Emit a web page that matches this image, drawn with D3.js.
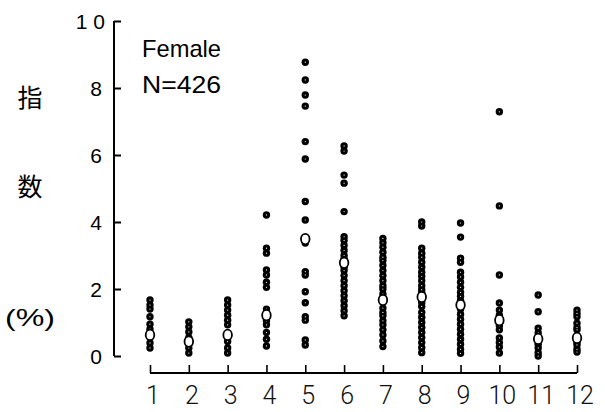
<!DOCTYPE html>
<html>
<head>
<meta charset="utf-8">
<script src="https://cdn.jsdelivr.net/npm/d3@7/dist/d3.min.js"></script>
<style>
  html, body { margin: 0; padding: 0; background: #fff; }
  svg { display: block; }
</style>
</head>
<body>
<svg id="chart" width="605" height="412"></svg>
<script>
// ---- data ----
const months = ["1","2","3","4","5","6","7","8","9","10","11","12"];
const monthLabels = ["1","2","3","4","5","6","7","8","9","10","11","12"];
const yTicks = [0, 2, 4, 6, 8, 10];
const indexValues = [
  [1.67, 1.52, 1.40, 1.17, 0.95, 0.80, 0.39, 0.24],
  [1.02, 0.87, 0.72, 0.55, 0.24, 0.09],
  [1.67, 1.52, 1.37, 1.22, 1.07, 0.93, 0.43, 0.24, 0.09],
  [4.21, 3.22, 3.07, 2.57, 2.42, 2.20, 2.05, 1.40, 1.05, 0.93, 0.70, 0.50, 0.30],
  [8.77, 8.24, 7.79, 7.46, 6.40, 5.88, 4.61, 4.06, 3.37, 2.52, 2.42, 1.92, 1.59, 1.17, 1.07, 0.48, 0.33],
  [6.27, 6.12, 5.40, 5.16, 4.31, 3.56, 3.45, 3.30, 3.15, 3.00, 2.90, 2.65, 2.55, 2.40, 2.25, 2.10, 1.95, 1.80, 1.65, 1.50, 1.35, 1.20],
  [3.51, 3.38, 3.25, 3.10, 2.95, 2.85, 2.70, 2.55, 2.40, 2.25, 2.10, 2.00, 1.85, 1.43, 1.30, 1.20, 1.05, 0.93, 0.78, 0.63, 0.45, 0.28],
  [4.00, 3.88, 3.22, 3.07, 2.95, 2.80, 2.65, 2.50, 2.38, 2.25, 2.10, 1.98, 1.88, 1.60, 1.48, 1.30, 1.15, 1.00, 0.85, 0.70, 0.55, 0.40, 0.25, 0.10],
  [3.97, 3.55, 2.92, 2.80, 2.50, 2.36, 2.20, 2.05, 1.90, 1.78, 1.65, 1.40, 1.25, 1.10, 0.95, 0.80, 0.65, 0.50, 0.35, 0.20, 0.08],
  [7.29, 4.48, 2.42, 1.58, 1.37, 1.22, 0.90, 0.78, 0.54, 0.40, 0.27, 0.09],
  [1.82, 1.32, 0.83, 0.69, 0.35, 0.24, 0.10, 0.00],
  [1.37, 1.27, 1.17, 0.98, 0.85, 0.78, 0.40, 0.33, 0.20, 0.12]
];
const meanValues = [0.63, 0.43, 0.63, 1.22, 3.49, 2.78, 1.67, 1.76, 1.52, 1.07, 0.51, 0.54];
const noteLines = ["Female", "N=426"];
const yLabelParts = ["指", "数", "(%)"];

// ---- scales ----
const svg = d3.select("#chart");
const x = d3.scalePoint().domain(months).range([150, 577]);
const y = d3.scaleLinear().domain([0, 10]).range([356, 21]);

// ---- y axis ----
const yAxis = d3.axisRight(y).tickValues(yTicks).tickSize(7).tickFormat(d3.format("d"));
const yg = svg.append("g").attr("transform", "translate(114,0)").call(yAxis);
yg.select(".domain").attr("d", "M0," + y(10) + "V" + y(0)).attr("stroke", "#000").attr("stroke-width", 2);
yg.selectAll(".tick line").attr("stroke", "#000").attr("stroke-width", 2);
yg.selectAll(".tick text")
  .attr("x", d => d === 10 ? -3 : -12).attr("dy", "0.36em")
  .attr("text-anchor", "end")
  .attr("font-family", "Liberation Sans, Arial, sans-serif")
  .attr("font-size", 21).attr("fill", "#000")
  .attr("letter-spacing", d => d === 10 ? 6 : 0);

// ---- x axis ----
const xAxis = d3.axisTop(x).tickSize(8).tickFormat("");
const xg = svg.append("g").attr("transform", "translate(0,373)").call(xAxis);
xg.select(".domain").attr("d", "M" + x("1") + ",0H" + x("12")).attr("stroke", "#000").attr("stroke-width", 2);
xg.selectAll(".tick line").attr("stroke", "#000").attr("stroke-width", 1.6);

svg.append("g").selectAll("text").data(months).join("text")
  .attr("x", d => x(d) + 3)
  .attr("y", 404)
  .attr("text-anchor", "middle")
  .attr("font-family", "Roboto, sans-serif")
  .attr("font-weight", 300)
  .attr("font-size", 25)
  .attr("fill", "#111")
  .text((d, i) => monthLabels[i]);

// ---- y label ----
const ylab = svg.append("g");
ylab.append("text").attr("x", 30).attr("y", 107).attr("text-anchor", "middle")
  .attr("font-family", "Noto Sans CJK JP, Noto Sans CJK SC, sans-serif").attr("font-size", 25).attr("fill", "#000")
  .text(yLabelParts[0]);
ylab.append("text").attr("x", 30).attr("y", 196).attr("text-anchor", "middle")
  .attr("font-family", "Noto Sans CJK JP, Noto Sans CJK SC, sans-serif").attr("font-size", 25).attr("fill", "#000")
  .text(yLabelParts[1]);
ylab.append("text").attr("x", 5).attr("y", 326)
  .attr("font-family", "Liberation Sans, Arial, sans-serif").attr("font-size", 24).attr("fill", "#000")
  .attr("textLength", 50).attr("lengthAdjust", "spacingAndGlyphs")
  .text(yLabelParts[2]);

// ---- note ----
svg.append("g").selectAll("text").data(noteLines).join("text")
  .attr("x", 142)
  .attr("y", (d, i) => 57 + i * 36)
  .attr("font-family", "Liberation Sans, Arial, sans-serif")
  .attr("font-size", 24)
  .attr("fill", "#000")
  .attr("textLength", 79).attr("lengthAdjust", "spacingAndGlyphs")
  .text(d => d);

// ---- points ----
const flat = [];
indexValues.forEach((arr, i) => arr.forEach(v => flat.push({ m: months[i], v })));
const pts = svg.append("g");
pts.selectAll("circle.dot").data(flat).join("circle")
  .attr("class", "dot")
  .attr("cx", d => x(d.m)).attr("cy", d => y(d.v))
  .attr("r", 3.7).attr("fill", "#000");
pts.selectAll("circle.hole").data(flat).join("circle")
  .attr("class", "hole")
  .attr("cx", d => x(d.m)).attr("cy", d => y(d.v))
  .attr("r", 0.6).attr("fill", "#fff");

// ---- means ----
svg.append("g").selectAll("ellipse").data(meanValues).join("ellipse")
  .attr("cx", (d, i) => x(months[i])).attr("cy", d => y(d))
  .attr("rx", 4.3).attr("ry", 5.2)
  .attr("fill", "#fff").attr("stroke", "#000").attr("stroke-width", 1.8);
</script>
</body>
</html>
